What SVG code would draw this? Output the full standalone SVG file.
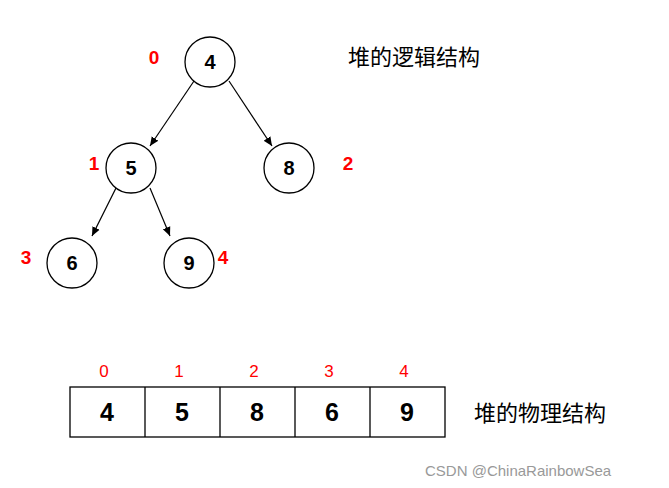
<svg xmlns="http://www.w3.org/2000/svg" width="669" height="488" viewBox="0 0 669 488">
<style>
.n{fill:#fff;stroke:#000;stroke-width:1.3}
.t{font-family:"Liberation Sans",sans-serif;font-weight:bold;font-size:20px;text-anchor:middle}
.r{font-family:"Liberation Sans",sans-serif;font-weight:bold;font-size:19px;fill:#f00;text-anchor:middle}
.i{font-family:"Liberation Sans",sans-serif;font-size:17px;fill:#f00;text-anchor:middle}
.a{font-family:"Liberation Sans",sans-serif;font-weight:bold;font-size:25px;text-anchor:middle}
.c{font-family:"Noto Sans CJK SC",sans-serif;font-size:22px}
.e{stroke:#000;stroke-width:1.2;fill:none;marker-end:url(#m)}
</style>
<defs><marker id="m" markerWidth="10" markerHeight="10" refX="9" refY="5" orient="auto" markerUnits="userSpaceOnUse"><path d="M0,1 L9,5 L0,9 z"/></marker></defs>
<rect width="669" height="488" fill="#fff"/>
<g id="edges">
<line class="e" x1="194" y1="81" x2="150" y2="146"/>
<line class="e" x1="229" y1="81" x2="272" y2="146"/>
<line class="e" x1="116" y1="188" x2="92" y2="236"/>
<line class="e" x1="150" y1="188" x2="170" y2="236"/>
</g>
<g id="n0"><circle class="n" cx="210" cy="62" r="25"/><text class="t" x="210" y="69">4</text><text class="r" x="154" y="64">0</text></g>
<g id="n1"><circle class="n" cx="131" cy="168" r="25"/><text class="t" x="131" y="175">5</text><text class="r" x="94" y="170">1</text></g>
<g id="n2"><circle class="n" cx="289" cy="168" r="25"/><text class="t" x="289" y="175">8</text><text class="r" x="348" y="170">2</text></g>
<g id="n3"><circle class="n" cx="72" cy="263" r="25"/><text class="t" x="72" y="270">6</text><text class="r" x="26" y="264">3</text></g>
<g id="n4"><circle class="n" cx="189" cy="263" r="25"/><text class="t" x="189" y="270">9</text><text class="r" x="223" y="264">4</text></g>
<text class="c" x="348" y="65">堆的逻辑结构</text>
<g id="array">
<rect x="70" y="387" width="375" height="50" fill="#fff" stroke="#000" stroke-width="1.3"/>
<line x1="145" y1="387" x2="145" y2="437" stroke="#000" stroke-width="1.3"/>
<line x1="220" y1="387" x2="220" y2="437" stroke="#000" stroke-width="1.3"/>
<line x1="295" y1="387" x2="295" y2="437" stroke="#000" stroke-width="1.3"/>
<line x1="370" y1="387" x2="370" y2="437" stroke="#000" stroke-width="1.3"/>
<text class="a" x="107" y="421">4</text><text class="a" x="182" y="421">5</text><text class="a" x="257" y="421">8</text><text class="a" x="332" y="421">6</text><text class="a" x="407" y="421">9</text>
<text class="i" x="104" y="377">0</text><text class="i" x="179" y="377">1</text><text class="i" x="254" y="377">2</text><text class="i" x="329" y="377">3</text><text class="i" x="404" y="377">4</text>
</g>
<text class="c" x="474" y="421">堆的物理结构</text>
<text x="425" y="476" font-family="Liberation Sans,sans-serif" font-size="15" fill="#999">CSDN @ChinaRainbowSea</text>
</svg>
